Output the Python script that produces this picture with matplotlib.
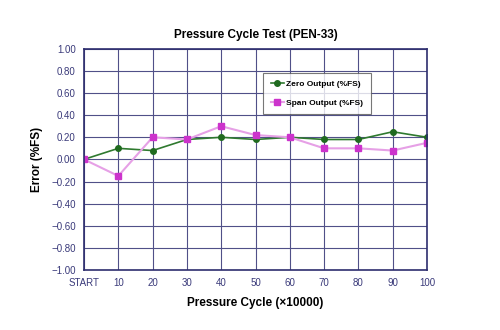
import matplotlib
matplotlib.use('Agg')
import matplotlib.pyplot as plt

# colors
navy = '#2e2e6e'
green_line = '#2f7a2f'
green_mark = '#1f6a1f'
pink_line = '#e6a0e6'
pink_mark = '#cc33cc'

cycles = ['START', '10', '20', '30', '40', '50', '60', '70', '80', '90', '100']
zero_output = [0.00, 0.10, 0.08, 0.18, 0.20, 0.18, 0.20, 0.18, 0.18, 0.25, 0.20]
span_output = [0.00, -0.15, 0.20, 0.18, 0.30, 0.22, 0.20, 0.10, 0.10, 0.08, 0.15]
y_ticks = [-1.0, -0.8, -0.6, -0.4, -0.2, 0.0, 0.2, 0.4, 0.6, 0.8, 1.0]

plt.rcParams['font.family'] = ['Liberation Sans', 'DejaVu Sans']

fig = plt.figure(figsize=(5, 3.3), dpi=100)
ax = fig.add_axes([0.168, 0.182, 0.686, 0.670])

x = list(range(len(cycles)))
ax.plot(x, zero_output, '-o', color=green_line, markerfacecolor=green_mark,
        markeredgecolor=green_mark, markersize=4, linewidth=1.2,
        label='Zero Output (%FS)')
ax.plot(x, span_output, '-s', color=pink_line, markerfacecolor=pink_mark,
        markeredgecolor=pink_mark, markersize=4.5, linewidth=1.5,
        label='Span Output (%FS)')

ax.set_xlim(0, len(cycles) - 1)
ax.set_ylim(-1.0, 1.0)
ax.set_xticks(x)
ax.set_xticklabels(cycles)
ax.set_yticks(y_ticks)
ax.set_yticklabels([f'{v:.2f}'.replace('-', '\u2212') for v in y_ticks])
ax.tick_params(length=0, labelsize=7, colors='#3a3a7a', pad=6)
ax.grid(True, color='#505088', linewidth=0.8)
ax.set_axisbelow(True)
for sp in ax.spines.values():
    sp.set_color(navy)
    sp.set_linewidth(1.2)

ax.set_title('Pressure Cycle Test (PEN-33)', fontsize=8.5, fontweight='bold', pad=8)
ax.set_xlabel('Pressure Cycle (\u00d710000)', fontsize=8.5, fontweight='bold', labelpad=6)
ax.set_ylabel('Error (%FS)', fontsize=8.5, fontweight='bold', labelpad=6)

leg = ax.legend(loc='upper left', bbox_to_anchor=(0.51, 0.91), fontsize=6,
                frameon=True, fancybox=False, edgecolor='#555555',
                handlelength=1.6, handletextpad=0.3, borderpad=0.9,
                labelspacing=1.3)
leg.get_frame().set_linewidth(0.8)
for t in leg.get_texts():
    t.set_fontweight('bold')

fig.savefig('out.png', dpi=100)
